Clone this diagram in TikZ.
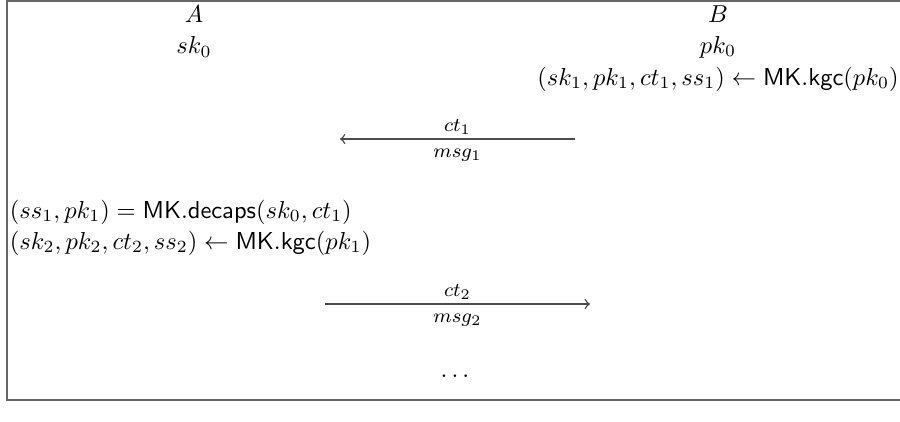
\documentclass[tikz,border=0pt]{standalone}
\usepackage{amsmath}

\begin{document}
\begin{tikzpicture}[x=0.01435cm, y=-0.01435cm,
        party/.style={inner sep=1pt},
        stepline/.style={inner sep=1pt, anchor=west},
        msgarrow/.style={draw=black!70, line width=0.6pt, ->},
        msglabel/.style={font=\footnotesize, inner sep=4pt}]

        \useasboundingbox (0, 0) rectangle (900, 421);
        \draw[black!60, line width=0.7pt] (905, 1) -- (7, 1) -- (7, 400) -- (905, 400);

        \node[party] at (194, 14) (A){$A$};
        \node[party] at (194, 47) (skA){$sk_0$};

        \node[party] at (718, 14) (B){$B$};
        \node[party] at (718, 47) (pkB){$pk_0$};
        \node[party] at (718, 79) (kgcB){$(sk_1, pk_1, ct_1, ss_1) \leftarrow \mathsf{MK.kgc}(pk_0)$};

        \coordinate (m1start) at (575, 139);
        \coordinate (m1end) at (340, 139);
        \draw[msgarrow] (m1start) -- node[msglabel, above, inner sep=1.5pt] {$ct_1$} node[msglabel, below] {$msg_1$} (m1end);

        \node[stepline] at (7, 212) (decA){$(ss_1, pk_1) = \mathsf{MK.decaps}(sk_0, ct_1)$};
        \node[stepline] at (7, 243) (kgcA){$(sk_2, pk_2, ct_2, ss_2) \leftarrow \mathsf{MK.kgc}(pk_1)$};

        \coordinate (m2start) at (325, 304);
        \coordinate (m2end) at (590, 304);
        \draw[msgarrow] (m2start) -- node[msglabel, above, inner sep=1.5pt] {$ct_2$} node[msglabel, below] {$msg_2$} (m2end);

        \node[party] at (457, 376) (dots){$\dots$};
        \end{tikzpicture}
\end{document}
